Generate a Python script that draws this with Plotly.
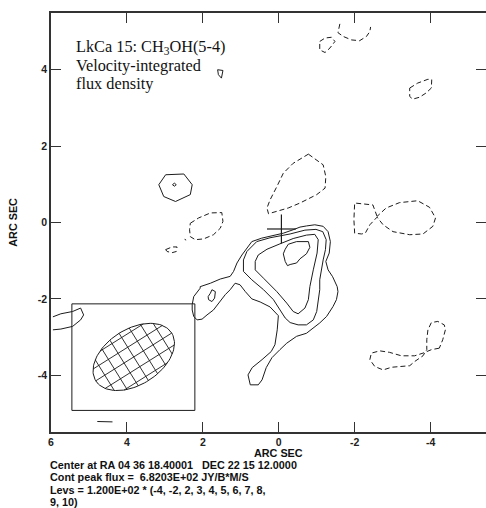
import math
import plotly.graph_objects as go

# ---------------- data: contour paths traced in arcsec offsets ----------------
# positive contours (solid)
pos_outer = [(2.07,-1.68),(1.80,-1.59),(1.54,-1.48),(1.28,-1.41),(1.19,-1.28),(1.10,-1.06),(0.97,-0.85),
             (0.80,-0.63),(0.71,-0.50),(0.45,-0.41),(0.14,-0.35),(-0.12,-0.28),(-0.38,-0.19),(-0.56,-0.12),
             (-0.73,-0.09),(-0.95,-0.06),(-1.17,-0.10),(-1.30,-0.24),(-1.36,-0.50),(-1.33,-0.80),(-1.24,-1.02),
             (-1.30,-1.24),(-1.42,-1.42),(-1.54,-1.68),(-1.56,-1.81),(-1.52,-2.02),(-1.43,-2.20),(-1.26,-2.46),
             (-1.08,-2.63),(-0.91,-2.76),(-0.73,-2.90),(-0.47,-2.98),(-0.21,-3.16),(-0.03,-3.33),(0.18,-3.54),
             (0.33,-3.80),(0.44,-4.12),(0.54,-4.25),(0.75,-4.25),(0.81,-3.99),(0.70,-3.80),(0.44,-3.59),
             (0.20,-3.38),(0.10,-3.20),(0.04,-2.81),(0.01,-2.44),(0.23,-2.21),(0.49,-2.08),(0.71,-2.00),
             (0.88,-1.81),(1.02,-1.63),(1.15,-1.59),(1.28,-1.76),(1.41,-1.89),(1.59,-2.11),(1.72,-2.29),
             (1.89,-2.42),(2.02,-2.53),(2.15,-2.55),(2.24,-2.46),(2.28,-2.29),(2.28,-2.15),(2.24,-1.94),(2.07,-1.72)]
pos_mid = [(0.93,-0.98),(0.84,-0.76),(0.58,-0.50),(0.23,-0.40),(-0.30,-0.30),(-0.69,-0.20),(-0.98,-0.18),
           (-1.16,-0.24),(-1.25,-0.45),(-1.23,-0.71),(-1.17,-0.98),(-1.13,-1.24),(-1.08,-1.50),(-1.08,-1.76),
           (-1.04,-2.02),(-1.00,-2.33),(-0.91,-2.55),(-0.73,-2.68),(-0.51,-2.68),(-0.30,-2.62),(-0.17,-2.50),
           (-0.03,-2.29),(0.14,-2.02),(0.40,-1.76),(0.71,-1.50),(0.93,-1.28)]
pos_inner = [(0.62,-1.24),(0.62,-1.02),(0.54,-0.85),(0.31,-0.70),(-0.03,-0.56),(-0.38,-0.42),(-0.73,-0.33),
             (-0.95,-0.31),(-1.04,-0.45),(-1.01,-0.80),(-0.91,-1.24),(-0.82,-1.68),(-0.78,-2.02),(-0.69,-2.24),
             (-0.51,-2.39),(-0.38,-2.33),(-0.21,-2.11),(0.05,-1.81),(0.40,-1.46)]
pos_peak = [(-0.17,-0.70),(-0.25,-0.57),(-0.47,-0.50),(-0.78,-0.50),(-0.82,-0.65),(-0.73,-0.82),(-0.56,-0.95),
            (-0.47,-1.06),(-0.30,-1.10),(-0.23,-1.13),(-0.17,-1.02),(-0.12,-0.82)]
pos_island = [(1.76,-1.76),(1.67,-1.81),(1.69,-1.98),(1.76,-2.07),(1.85,-2.02),(1.86,-1.94),(1.80,-1.85)]
pos_nw = [(2.98,1.25),(2.50,1.27),(2.28,0.99),(2.33,0.73),(2.72,0.55),(3.03,0.68),(3.16,0.99)]
pos_nw_peak = [(2.80,0.99),(2.75,1.03),(2.70,0.99),(2.75,0.95)]
pos_north = [(1.61,4.00),(1.47,3.98),(1.51,3.78),(1.59,3.87)]
pos_edge = [(5.95,-2.47),(5.74,-2.39),(5.43,-2.33),(5.22,-2.24),(5.14,-2.42),(5.22,-2.55),(5.43,-2.72),
            (5.74,-2.79),(5.95,-2.81)]
pos_south = [(4.78,-5.21),(4.38,-5.22)]

# negative contours (dashed)
neg_north = [(-0.78,1.79),(-1.17,1.51),(-1.24,1.20),(-1.22,0.90),(-1.00,0.73),(-0.56,0.51),(-0.25,0.38),
             (0.05,0.29),(0.27,0.23),(0.31,0.38),(0.23,0.59),(0.05,0.94),(-0.12,1.29),(-0.38,1.55)]
neg_east = [(-2.59,0.16),(-2.48,0.46),(-2.00,0.51),(-1.98,0.07),(-2.00,-0.28),(-2.18,-0.30),(-2.28,-0.28),
            (-2.40,-0.06),(-2.59,0.14),(-2.75,-0.06),(-3.01,-0.24),(-3.45,-0.32),(-3.80,-0.30),(-4.06,-0.10),
            (-4.13,0.12),(-3.97,0.40),(-3.66,0.57),(-3.18,0.52),(-2.83,0.38),(-2.61,0.16)]
neg_west = [(2.33,-0.02),(2.11,0.12),(1.80,0.25),(1.50,0.26),(1.47,0.03),(1.54,-0.15),(1.72,-0.32),
            (1.98,-0.43),(2.20,-0.45),(2.33,-0.37),(2.35,-0.19)]
neg_west_small = [(2.98,-0.71),(2.81,-0.64),(2.68,-0.64),(2.70,-0.76),(2.81,-0.79),(2.94,-0.76)]
neg_dot = [(2.48,-0.44),(2.44,-0.46)]
neg_top_u = [(-1.61,5.20),(-1.56,4.97),(-1.70,4.87),(-1.92,4.78),(-2.13,4.76),(-2.31,4.87),(-2.40,5.00),(-2.42,5.12)]
neg_top_small = [(-1.08,4.74),(-1.22,4.83),(-1.39,4.85),(-1.48,4.74),(-1.35,4.57),(-1.22,4.45),(-1.08,4.52),(-1.07,4.65)]
neg_ne = [(-3.45,3.52),(-3.66,3.65),(-3.93,3.75),(-4.03,3.74),(-4.02,3.52),(-3.88,3.39),(-3.71,3.28),
          (-3.53,3.23),(-3.45,3.30)]
neg_se = [(-4.23,-3.29),(-4.02,-3.33),(-3.80,-3.42),(-3.58,-3.49),(-3.23,-3.49),(-2.92,-3.40),(-2.66,-3.36),
          (-2.44,-3.42),(-2.40,-3.59),(-2.53,-3.77),(-2.75,-3.86),(-2.97,-3.79),(-3.45,-3.75),(-3.58,-3.64),
          (-3.80,-3.49),(-3.90,-3.33),(-3.90,-3.07),(-3.93,-2.81),(-4.02,-2.62),(-4.19,-2.59),(-4.36,-2.68),
          (-4.39,-2.81),(-4.32,-3.07)]

solid_closed = [pos_outer, pos_mid, pos_inner, pos_peak, pos_island, pos_nw, pos_nw_peak, pos_north]
solid_open = [pos_edge, pos_south]
dashed_closed = [neg_north, neg_east, neg_west, neg_west_small, neg_top_small, neg_ne, neg_se]
dashed_open = [neg_top_u, neg_dot]

# star position cross
star_x, star_y, cross_half = -0.07, -0.17, 0.38
# restoring beam (arcsec, degrees) and beam box
beam_cx, beam_cy = 3.82, -3.52
beam_major, beam_minor, beam_pa = 2.36, 1.46, -58.0
hatch_step = 0.30
box_x = [5.45, 2.21]
box_y = [-4.92, -2.13]

# axes
x_range = [6.0, -5.46]
y_range = [-5.485, 5.485]
xtick_vals = [6, 4, 2, 0, -2, -4]
ytick_vals = [-4, -2, 0, 2, 4]

title_lines = ["LkCa 15: CH<sub>3</sub>OH(5-4)", "Velocity-integrated", "flux density"]
footer_lines = ["Center at RA 04 36 18.40001   DEC 22 15 12.0000",
                "Cont peak flux =  6.8203E+02 JY/B*M/S",
                "Levs = 1.200E+02 * (-4, -2, 2, 3, 4, 5, 6, 7, 8,",
                "9, 10)"]
axis_title = "ARC SEC"

# ---------------- build ----------------
W, H = 486, 508
ML, MR, MT, MB = 51, 0, 13, 76
PW, PH = W - ML - MR, H - MT - MB
LINE = "#1c1c1c"


def px2paper(px, py):
    return (px - ML) / PW, (H - MB - py) / PH


def join(paths, close):
    xs, ys = [], []
    for p in paths:
        pts = list(p) + ([p[0]] if close else [])
        xs += [q[0] for q in pts] + [None]
        ys += [q[1] for q in pts] + [None]
    return xs, ys


fig = go.Figure()
for paths, close, dash in [(solid_closed, True, "solid"), (solid_open, False, "solid"),
                           (dashed_closed, True, "5px,3px"), (dashed_open, False, "5px,3px")]:
    xs, ys = join(paths, close)
    fig.add_trace(go.Scatter(x=xs, y=ys, mode="lines", hoverinfo="skip",
                             line=dict(color=LINE, width=1, dash=dash)))

# beam box
fig.add_trace(go.Scatter(x=[box_x[0], box_x[1], box_x[1], box_x[0], box_x[0]],
                         y=[box_y[0], box_y[0], box_y[1], box_y[1], box_y[0]],
                         mode="lines", hoverinfo="skip", line=dict(color=LINE, width=1)))

# beam ellipse + hatch
a, b = beam_major / 2, beam_minor / 2
th = math.radians(beam_pa)
ux, uy = math.sin(th), math.cos(th)      # along major axis
vx, vy = math.cos(th), -math.sin(th)     # along minor axis
ex, ey = [], []
for i in range(121):
    t = 2 * math.pi * i / 120
    u, v = a * math.cos(t), b * math.sin(t)
    ex.append(beam_cx + u * ux + v * vx)
    ey.append(beam_cy + u * uy + v * vy)
hx, hy = [], []
k = -int(a / hatch_step)
while k * hatch_step < a:
    u = k * hatch_step
    if abs(u) < a:
        vv = b * math.sqrt(1 - (u / a) ** 2)
        for v in (-vv, vv):
            hx.append(beam_cx + u * ux + v * vx)
            hy.append(beam_cy + u * uy + v * vy)
        hx.append(None); hy.append(None)
    k += 1
k = -int(b / hatch_step)
while k * hatch_step < b:
    v = k * hatch_step
    if abs(v) < b:
        uu = a * math.sqrt(1 - (v / b) ** 2)
        for u in (-uu, uu):
            hx.append(beam_cx + u * ux + v * vx)
            hy.append(beam_cy + u * uy + v * vy)
        hx.append(None); hy.append(None)
    k += 1
fig.add_trace(go.Scatter(x=ex, y=ey, mode="lines", hoverinfo="skip", line=dict(color=LINE, width=1)))
fig.add_trace(go.Scatter(x=hx, y=hy, mode="lines", hoverinfo="skip", line=dict(color=LINE, width=0.9)))

# star cross
fig.add_trace(go.Scatter(x=[star_x + cross_half, star_x - cross_half, None, star_x, star_x],
                         y=[star_y, star_y, None, star_y + cross_half, star_y - cross_half],
                         mode="lines", hoverinfo="skip", line=dict(color=LINE, width=1.2)))

# dummy trace for right-hand tick axis
fig.add_trace(go.Scatter(x=[None], y=[None], yaxis="y2", hoverinfo="skip"))

tickfont = dict(family="Liberation Sans, Arial, sans-serif", size=10.5, color="#222", weight="bold")
axis_common = dict(ticks="inside", ticklen=10, tickwidth=1, tickcolor="#333", showgrid=False,
                   zeroline=False, showline=True, linecolor="#333", linewidth=1.5, tickfont=tickfont)
fig.update_layout(
    width=W, height=H, margin=dict(l=ML, r=MR, t=MT, b=MB),
    plot_bgcolor="white", paper_bgcolor="white", showlegend=False,
    xaxis=dict(range=x_range, tickvals=xtick_vals, ticktext=[str(v) for v in xtick_vals],
               mirror="ticks", **axis_common),
    yaxis=dict(range=y_range, tickvals=ytick_vals, ticktext=[str(v) for v in ytick_vals],
               mirror=False, **axis_common),
    yaxis2=dict(range=y_range, overlaying="y", side="right", tickvals=ytick_vals, ticks="inside",
                ticklen=10, tickwidth=1, tickcolor="#333", showticklabels=False, showgrid=False,
                zeroline=False, showline=False),
)

serif = dict(family="Liberation Serif, Times New Roman, serif", size=16.3, color="#111")
for i, t in enumerate(title_lines):
    x, y = px2paper(74, 47 + 18 * i)
    fig.add_annotation(text=t, xref="paper", yref="paper", x=x, y=y, xanchor="left", yanchor="middle",
                       showarrow=False, font=serif)

sans = dict(family="Liberation Sans, Arial, sans-serif", size=10.8, color="#111", weight="bold")
x, y = px2paper(278.7, 453)
fig.add_annotation(text=axis_title, xref="paper", yref="paper", x=x, y=y, xanchor="center",
                   yanchor="middle", showarrow=False, font=sans)
x, y = px2paper(13, 222.7)
fig.add_annotation(text=axis_title, xref="paper", yref="paper", x=x, y=y, xanchor="center",
                   yanchor="middle", showarrow=False, font=sans, textangle=-90)
for i, t in enumerate(footer_lines):
    x, y = px2paper(48, 465 + 12.3 * i)
    fig.add_annotation(text=t, xref="paper", yref="paper", x=x, y=y, xanchor="left", yanchor="middle",
                       showarrow=False, font=sans)

fig.write_html("out.html")
